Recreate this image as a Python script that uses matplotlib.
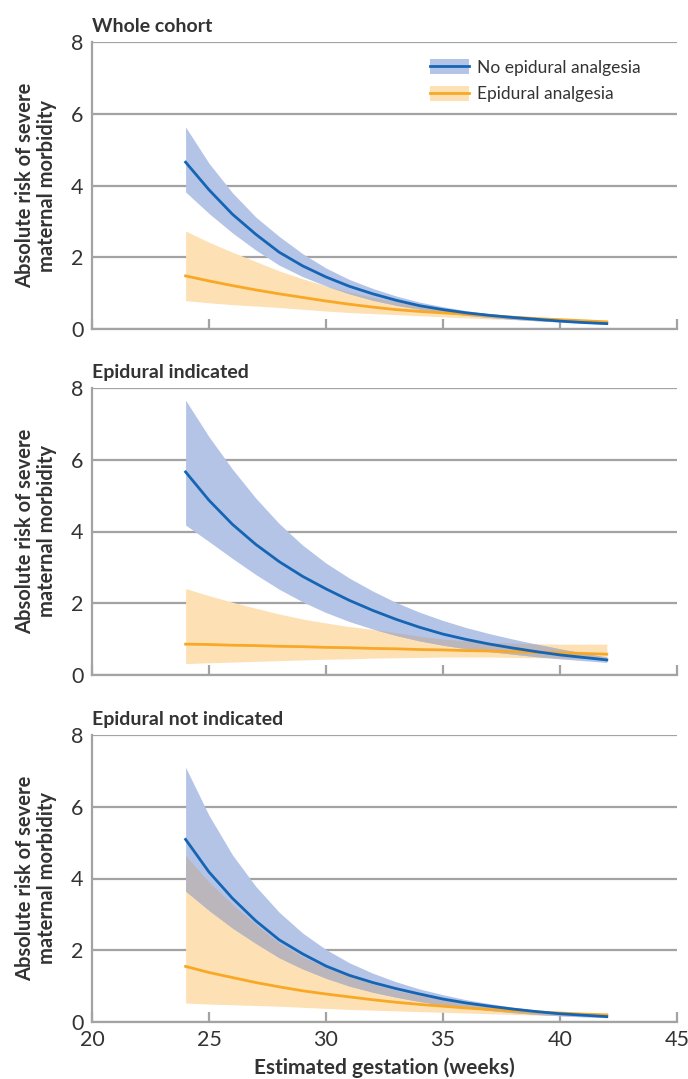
import matplotlib
matplotlib.use("Agg")
import matplotlib.pyplot as plt
import numpy as np
from matplotlib.patches import Patch
from matplotlib.lines import Line2D

plt.rcParams['font.family'] = ['Lato', 'DejaVu Sans']

# --------------------------------------
# Data
# --------------------------------------
weeks = np.arange(24, 43)

panel_titles = ["Whole cohort", "Epidural indicated", "Epidural not indicated"]

# Whole cohort
whole_no_mean = [4.65, 3.88, 3.20, 2.64, 2.14, 1.76, 1.45, 1.19, 0.98, 0.80, 0.65, 0.54, 0.45, 0.38, 0.32, 0.27, 0.22, 0.18, 0.15]
whole_no_upper = [5.63, 4.62, 3.80, 3.12, 2.58, 2.10, 1.70, 1.38, 1.13, 0.92, 0.75, 0.62, 0.51, 0.42, 0.35, 0.29, 0.24, 0.20, 0.17]
whole_no_lower = [3.82, 3.22, 2.68, 2.20, 1.78, 1.46, 1.20, 0.98, 0.80, 0.66, 0.55, 0.46, 0.38, 0.32, 0.27, 0.23, 0.19, 0.16, 0.13]
whole_epi_mean = [1.48, 1.34, 1.21, 1.09, 0.98, 0.88, 0.78, 0.69, 0.61, 0.54, 0.49, 0.45, 0.41, 0.37, 0.33, 0.29, 0.26, 0.23, 0.20]
whole_epi_upper = [2.73, 2.42, 2.14, 1.88, 1.62, 1.40, 1.20, 1.03, 0.88, 0.76, 0.66, 0.57, 0.49, 0.43, 0.37, 0.32, 0.28, 0.24, 0.22]
whole_epi_lower = [0.79, 0.73, 0.68, 0.64, 0.60, 0.55, 0.50, 0.46, 0.43, 0.40, 0.37, 0.34, 0.31, 0.28, 0.26, 0.23, 0.21, 0.19, 0.17]

# Epidural indicated
ind_no_mean = [5.66, 4.87, 4.20, 3.64, 3.16, 2.75, 2.40, 2.08, 1.80, 1.55, 1.33, 1.14, 0.99, 0.86, 0.75, 0.65, 0.56, 0.49, 0.42]
ind_no_upper = [7.66, 6.64, 5.74, 4.93, 4.22, 3.62, 3.12, 2.70, 2.34, 2.02, 1.75, 1.52, 1.32, 1.15, 1.00, 0.86, 0.73, 0.61, 0.50]
ind_no_lower = [4.18, 3.72, 3.25, 2.80, 2.39, 2.04, 1.74, 1.49, 1.28, 1.10, 0.95, 0.83, 0.73, 0.65, 0.58, 0.51, 0.45, 0.40, 0.35]
ind_epi_mean = [0.86, 0.85, 0.83, 0.82, 0.80, 0.79, 0.77, 0.76, 0.74, 0.73, 0.71, 0.70, 0.68, 0.67, 0.65, 0.63, 0.62, 0.60, 0.58]
ind_epi_upper = [2.41, 2.21, 2.03, 1.86, 1.70, 1.56, 1.45, 1.35, 1.27, 1.18, 1.08, 1.00, 0.95, 0.91, 0.89, 0.87, 0.86, 0.86, 0.86]
ind_epi_lower = [0.32, 0.34, 0.36, 0.38, 0.40, 0.42, 0.44, 0.45, 0.47, 0.48, 0.49, 0.50, 0.50, 0.50, 0.49, 0.48, 0.47, 0.46, 0.45]

# Epidural not indicated
not_no_mean = [5.09, 4.18, 3.45, 2.82, 2.29, 1.90, 1.56, 1.30, 1.10, 0.93, 0.78, 0.64, 0.53, 0.44, 0.36, 0.29, 0.23, 0.19, 0.15]
not_no_upper = [7.10, 5.76, 4.66, 3.78, 3.06, 2.48, 2.02, 1.65, 1.36, 1.12, 0.92, 0.76, 0.62, 0.51, 0.41, 0.33, 0.26, 0.21, 0.18]
not_no_lower = [3.65, 3.11, 2.62, 2.19, 1.79, 1.48, 1.22, 1.00, 0.83, 0.69, 0.57, 0.47, 0.39, 0.32, 0.26, 0.21, 0.17, 0.14, 0.12]
not_epi_mean = [1.55, 1.38, 1.24, 1.10, 0.98, 0.87, 0.78, 0.70, 0.62, 0.55, 0.49, 0.44, 0.39, 0.35, 0.31, 0.28, 0.25, 0.22, 0.20]
not_epi_upper = [4.64, 3.90, 3.28, 2.72, 2.20, 1.82, 1.52, 1.27, 1.06, 0.88, 0.74, 0.62, 0.52, 0.44, 0.37, 0.32, 0.28, 0.25, 0.23]
not_epi_lower = [0.53, 0.50, 0.48, 0.46, 0.44, 0.41, 0.38, 0.35, 0.33, 0.31, 0.29, 0.27, 0.25, 0.23, 0.21, 0.19, 0.18, 0.17, 0.16]

panels = [
    (whole_no_mean, whole_no_lower, whole_no_upper, whole_epi_mean, whole_epi_lower, whole_epi_upper),
    (ind_no_mean, ind_no_lower, ind_no_upper, ind_epi_mean, ind_epi_lower, ind_epi_upper),
    (not_no_mean, not_no_lower, not_no_upper, not_epi_mean, not_epi_lower, not_epi_upper),
]

# --------------------------------------
# Styles
# --------------------------------------
blue_line = '#1565b4'
blue_band = '#b4c4e6'
orange_line = '#f9a825'
orange_band = '#fde1b5'
overlap_band = '#bbb6bc'
grid_col = '#a3a3a3'
text_col = '#333333'

fig = plt.figure(figsize=(6.88, 10.79), dpi=100)

left, width = 92 / 688, 585 / 688
tops = [42, 388, 735]
height_px = 287

for i, (title, data) in enumerate(zip(panel_titles, panels)):
    no_m, no_lo, no_hi, ep_m, ep_lo, ep_hi = [np.array(d) for d in data]
    bottom = 1 - (tops[i] + height_px) / 1079
    ax = fig.add_axes([left, bottom, width, height_px / 1079])

    ax.fill_between(weeks, ep_lo, ep_hi, color=orange_band, lw=0, zorder=2)
    ax.fill_between(weeks, no_lo, no_hi, color=blue_band, lw=0, zorder=3)
    # region where both confidence bands overlap shows up grey
    ov_lo = np.maximum(no_lo, ep_lo)
    ov_hi = np.minimum(no_hi, ep_hi)
    ax.fill_between(weeks, ov_lo, ov_hi, where=ov_hi > ov_lo, interpolate=True,
                    color=overlap_band, lw=0, zorder=4)
    ax.plot(weeks, ep_m, color=orange_line, lw=2.0, zorder=5)
    ax.plot(weeks, no_m, color=blue_line, lw=2.0, zorder=6)

    ax.set_xlim(20, 45)
    ax.set_ylim(0, 8)
    ax.set_yticks([0, 2, 4, 6, 8])
    ax.set_xticks([20, 25, 30, 35, 40, 45])
    ax.grid(axis='y', color=grid_col, lw=1.6, zorder=1)
    ax.set_axisbelow(True)
    for s in ['top', 'right']:
        ax.spines[s].set_visible(False)
    for s in ['left', 'bottom']:
        ax.spines[s].set_color(grid_col)
        ax.spines[s].set_linewidth(1.6)
    ax.tick_params(axis='y', length=0, labelsize=15.5, labelcolor=text_col, pad=6)
    ax.tick_params(axis='x', direction='in', length=7, width=1.6, color=grid_col,
                   labelsize=15.5, labelcolor=text_col, pad=6)
    if i < 2:
        ax.tick_params(axis='x', labelbottom=False)

    ax.set_title(title, loc='left', fontsize=14, fontweight='bold', color=text_col, pad=7)
    ax.set_ylabel("Absolute risk of severe\nmaternal morbidity", fontsize=14.5,
                  fontweight='bold', color=text_col, linespacing=1.1)
    ax.yaxis.set_label_coords(-0.06, 0.5)

    if i == 0:
        handles = [
            (Patch(facecolor=blue_band, edgecolor='none'), Line2D([], [], color=blue_line, lw=2.0)),
            (Patch(facecolor=orange_band, edgecolor='none'), Line2D([], [], color=orange_line, lw=2.0)),
        ]
        ax.legend(handles, ["No epidural analgesia", "Epidural analgesia"],
                  loc='upper right', bbox_to_anchor=(0.965, 0.995), frameon=False,
                  fontsize=12.5, handlelength=2.2, handleheight=0.95, labelspacing=0.6,
                  handletextpad=0.5, labelcolor=text_col)
    if i == 2:
        ax.set_xlabel("Estimated gestation (weeks)", fontsize=15, fontweight='bold',
                      color=text_col, labelpad=5)

fig.savefig("out.png", dpi=100)
